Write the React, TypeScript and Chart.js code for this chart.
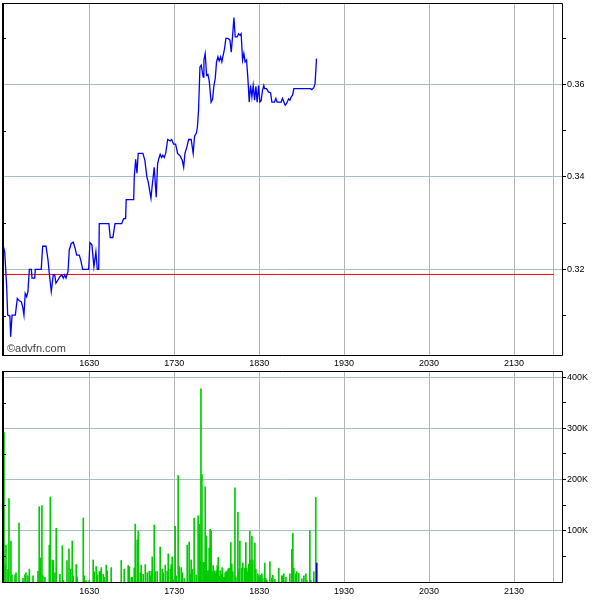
import React, { useEffect, useRef } from 'react';
import { Chart, registerables } from 'chart.js';

Chart.register(...registerables);

// Minutes since midnight (15:29 .. 22:04)
const timeMin = 929.1;
const timeMax = 1323.9;
const timeLabelTicks = [990, 1050, 1110, 1170, 1230, 1290];
const sessionEnd = 1318;

const priceTimes = [
  929.3, 930.3, 931.7, 932.4, 934.0, 934.5, 935.5, 937.8, 939.2, 940.6, 942.0, 943.0, 943.9, 944.8, 945.8, 946.7,
  947.7, 949.1, 949.6, 951.5, 951.9, 956.1, 957.1, 959.5, 960.9, 961.8, 963.2, 964.6, 965.6, 966.5, 967.9, 969.3,
  970.7, 971.7, 972.7, 973.6, 975.0, 975.9, 977.3, 978.7, 980.1, 981.1, 983.0, 984.0, 985.4, 989.6, 990.5, 991.9,
  993.3, 994.7, 995.7, 996.7, 997.1, 1003.9, 1004.8, 1006.7, 1008.2, 1012.9, 1014.3, 1015.7, 1016.1, 1021.4, 1021.8,
  1022.8, 1023.7, 1024.6, 1027.9, 1029.3, 1030.7, 1031.7, 1033.6, 1034.5, 1035.9, 1037.3, 1038.3, 1039.2, 1040.1,
  1041.1, 1042.0, 1043.0, 1044.0, 1045.4, 1047.2, 1048.2, 1049.6, 1051.0, 1052.4, 1054.3, 1055.7, 1056.7, 1057.6,
  1059.0, 1060.2, 1062.0, 1063.4, 1064.4, 1065.7, 1066.4, 1067.2, 1068.2, 1069.1, 1070.5, 1071.0, 1071.9, 1072.9,
  1073.8, 1074.7, 1076.1, 1077.1, 1078.0, 1079.0, 1079.9, 1080.9, 1081.8, 1082.8, 1083.7, 1084.6, 1085.6, 1086.5,
  1087.9, 1089.4, 1090.3, 1091.2, 1092.2, 1093.1, 1094.5, 1095.5, 1096.4, 1097.3, 1098.3, 1099.2, 1100.1, 1101.1,
  1102.0, 1103.0, 1103.9, 1104.9, 1105.8, 1106.8, 1107.7, 1108.6, 1109.6, 1110.5, 1111.4, 1112.4, 1113.3, 1113.8,
  1115.2, 1116.6, 1118.1, 1119.0, 1120.9, 1121.8, 1122.7, 1125.6, 1126.5, 1127.5, 1128.4, 1129.4, 1130.8, 1131.7,
  1132.6, 1133.6, 1134.5, 1146.3, 1147.2, 1148.6, 1149.5, 1150.5,
];

const prices = [
  0.3250, 0.3238, 0.3162, 0.3101, 0.3099, 0.3054, 0.3101, 0.3101, 0.3137, 0.3132, 0.3130, 0.3119, 0.3101, 0.3148, 0.3141, 0.3152,
  0.3200, 0.3200, 0.3181, 0.3181, 0.3200, 0.3200, 0.3250, 0.3250, 0.3220, 0.3191, 0.3152, 0.3188, 0.3188, 0.3170, 0.3177, 0.3184,
  0.3188, 0.3181, 0.3188, 0.3181, 0.3195, 0.3242, 0.3256, 0.3259, 0.3245, 0.3231, 0.3231, 0.3220, 0.3200, 0.3200, 0.3258, 0.3253,
  0.3206, 0.3238, 0.3200, 0.3200, 0.3299, 0.3299, 0.3269, 0.3269, 0.3299, 0.3299, 0.3310, 0.3310, 0.3351, 0.3351, 0.3400,
  0.3438, 0.3408, 0.3451, 0.3451, 0.3436, 0.3400, 0.3389, 0.3354, 0.3382, 0.3421, 0.3356, 0.3429, 0.3440, 0.3449,
  0.3442, 0.3447, 0.3442, 0.3451, 0.3481, 0.3478, 0.3481, 0.3471, 0.3471, 0.3451, 0.3445, 0.3436, 0.3421, 0.3451,
  0.3465, 0.3481, 0.3481, 0.3451, 0.3488, 0.3495, 0.3508, 0.3544, 0.3638, 0.3642, 0.3616, 0.3653, 0.3667, 0.3620,
  0.3622, 0.3609, 0.3562, 0.3568, 0.3596, 0.3613, 0.3649, 0.3660, 0.3651, 0.3660, 0.3649, 0.3663, 0.3678, 0.3700,
  0.3700, 0.3696, 0.3670, 0.3703, 0.3745, 0.3703, 0.3703, 0.3710, 0.3707, 0.3710, 0.3653, 0.3667, 0.3649, 0.3653,
  0.3616, 0.3562, 0.3598, 0.3573, 0.3598, 0.3566, 0.3596, 0.3562, 0.3598, 0.3562, 0.3565, 0.3588, 0.3598, 0.3591,
  0.3591, 0.3584, 0.3582, 0.3562, 0.3562, 0.3570, 0.3562, 0.3562, 0.3570, 0.3562, 0.3555, 0.3559, 0.3569, 0.3566,
  0.3573, 0.3577, 0.3591, 0.3591, 0.3589, 0.3593, 0.3602, 0.3656,
];

const prevClose = 0.3189;
const priceMin = 0.30147;
const priceMax = 0.37764;
const priceTicks = [0.31, 0.32, 0.33, 0.34, 0.35, 0.36, 0.37];
const priceMinorTicks = [0.31, 0.33, 0.35, 0.37];

const volumeTimes = [
  929.8, 930.5, 931.2, 932.6, 933.3, 934.7, 935.4, 937.6, 938.3, 940.4, 943.2, 944.6, 945.3, 946.7, 947.7, 950.3,
  953.8, 954.7, 955.4, 956.6, 957.3, 958.7, 961.8, 962.5, 963.9, 964.6, 965.8, 966.7, 969.3, 971.0, 971.7, 974.3,
  975.7, 976.9, 978.0, 978.7, 980.8, 981.5, 985.8, 986.5, 987.7, 990.0, 992.8, 993.5, 994.9, 995.7, 997.1, 997.8,
  998.5, 999.9, 1000.6, 1002.0, 1002.7, 1005.5, 1012.6, 1014.7, 1017.5, 1018.3, 1019.7, 1020.4, 1021.8, 1022.5,
  1023.9, 1024.6, 1026.0, 1026.7, 1028.1, 1029.6, 1031.0, 1032.4, 1033.1, 1033.8, 1034.5, 1035.9, 1036.6, 1038.0,
  1040.1, 1041.5, 1042.3, 1043.7, 1045.1, 1045.8, 1047.2, 1047.9, 1048.6, 1049.3, 1050.7, 1051.4, 1052.8, 1053.5,
  1055.0, 1055.7, 1057.1, 1059.2, 1060.6, 1061.3, 1062.0, 1062.7, 1064.1, 1065.5, 1066.9, 1067.7, 1068.4, 1068.9,
  1069.6, 1070.5, 1071.2, 1071.9, 1072.6, 1073.3, 1074.0, 1074.7, 1075.4, 1076.1, 1076.8, 1077.5, 1078.3, 1079.0,
  1079.7, 1080.4, 1081.1, 1081.8, 1082.5, 1083.2, 1083.9, 1084.6, 1085.3, 1086.0, 1086.7, 1087.4, 1088.1, 1088.8,
  1090.0, 1090.7, 1091.5, 1092.9, 1093.6, 1095.0, 1095.7, 1096.4, 1097.8, 1098.5, 1099.9, 1100.6, 1101.3, 1102.0,
  1102.7, 1103.4, 1104.2, 1104.9, 1105.6, 1107.0, 1107.7, 1109.1, 1109.8, 1110.5, 1111.2, 1111.9, 1112.6, 1114.0,
  1114.7, 1115.4, 1117.6, 1119.0, 1119.7, 1121.1, 1123.9, 1126.0, 1126.7, 1127.4, 1128.9, 1131.7, 1133.1, 1133.8,
  1134.5, 1135.9, 1136.6, 1138.0, 1140.2, 1141.6, 1143.0, 1143.7, 1145.8, 1146.5, 1148.6, 1150.0, 1150.7,
];

const volumes = [
  292000, 33000, 72000, 25000, 163000, 80000, 14000, 14000, 18000, 115000, 7000, 14000, 18000, 12000, 25000, 12000,
  21000, 147000, 47000, 149000, 12000, 9000, 72000, 166000, 43000, 42000, 18000, 105000, 15000, 71000, 3000, 42000,
  65000, 25000, 80000, 12000, 34000, 10000, 125000, 12000, 3000, 3000, 43000, 20000, 30000, 14000, 20000, 21000,
  28000, 15000, 9000, 33000, 22000, 28000, 42000, 25000, 32000, 30000, 9000, 9000, 27000, 113000,
  82000, 99000, 18000, 33000, 15000, 34000, 18000, 21000, 12000, 21000, 49000, 111000, 20000, 21000,
  68000, 25000, 18000, 33000, 21000, 55000, 25000, 34000, 49000, 5000, 109000, 12000, 208000, 30000,
  28000, 18000, 7000, 72000, 78000, 15000, 43000, 25000, 125000, 14000, 129000, 113000, 38000, 377000,
  210000, 38000, 38000, 186000, 90000, 22000, 22000, 66000, 103000, 100000, 20000, 32000, 22000, 18000,
  22000, 32000, 48000, 11000, 22000, 15000, 28000, 9000, 9000, 18000, 20000, 22000, 25000, 27000,
  77000, 35000, 20000, 184000, 10000, 136000, 25000, 80000, 27000, 37000, 27000, 77000, 27000, 20000,
  35000, 99000, 43000, 89000, 43000, 76000, 25000, 16000, 12000, 6000, 13000, 16000, 7000, 37000,
  7000, 3000, 40000, 8000, 13000, 5000, 27000, 12000, 12000, 16000, 9000, 16000, 64000, 95000,
  27000, 16000, 20000, 17000, 6000, 12000, 16000, 3000, 100000, 3000, 20000, 165000, 37000,
];

const volumeMax = 412000;
const volumeTicks = [50000, 100000, 150000, 200000, 250000, 300000, 350000, 400000];
const volumeMinorTicks = [50000, 150000, 250000, 350000];

const FONT = 'Liberation Sans, Arial, sans-serif';
const H_GRID = '#a4c2c2';
const V_GRID = '#b4b4b4';

function timeLabel(v: number): string {
  if (!timeLabelTicks.includes(v)) return '';
  const h = Math.floor(v / 60);
  const m = Math.round(v % 60);
  return String(h * 100 + m);
}

function makeFrame(minor: number[], watermark?: string) {
  return {
    id: 'frame',
    afterDraw(chart: any) {
      const { ctx, chartArea: a, scales } = chart;
      const l = Math.round(a.left);
      const t = Math.round(a.top);
      const r = Math.round(a.right);
      const b = Math.round(a.bottom);
      ctx.save();
      ctx.strokeStyle = '#000';
      ctx.lineWidth = 1;
      ctx.beginPath();
      ctx.moveTo(l, t + 0.5);
      ctx.lineTo(r + 0.5, t + 0.5);
      ctx.lineTo(r + 0.5, b + 0.5);
      ctx.lineTo(l, b + 0.5);
      ctx.stroke();
      ctx.lineWidth = 2;
      ctx.beginPath();
      ctx.moveTo(l, t);
      ctx.lineTo(l, b + 1);
      ctx.stroke();
      ctx.lineWidth = 1;
      minor.forEach((v) => {
        const y = Math.round(scales.y.getPixelForValue(v)) + 0.5;
        ctx.beginPath();
        ctx.moveTo(l, y);
        ctx.lineTo(l + 3, y);
        ctx.stroke();
      });
      if (watermark) {
        ctx.fillStyle = '#444';
        ctx.font = '11px ' + FONT;
        ctx.textBaseline = 'alphabetic';
        ctx.textAlign = 'left';
        ctx.fillText(watermark, l + 4, b - 3);
      }
      ctx.restore();
    },
  };
}

function xScale(height: number, pad: number) {
  return {
    type: 'linear' as const,
    min: timeMin,
    max: timeMax,
    offset: false,
    afterBuildTicks: (s: any) => {
      s.ticks = [...timeLabelTicks, sessionEnd].map((v) => ({ value: v }));
    },
    afterFit: (s: any) => {
      s.height = height;
      s.paddingLeft = 0;
      s.paddingRight = 0;
    },
    ticks: {
      autoSkip: false,
      maxRotation: 0,
      minRotation: 0,
      padding: pad,
      color: '#000',
      font: { size: 9, family: FONT },
      callback: (v: any) => timeLabel(Number(v)),
    },
    grid: { color: V_GRID, drawTicks: false, tickLength: 0, offset: false, lineWidth: 1 },
    border: { display: false },
  };
}

export default function App() {
  const priceRef = useRef<HTMLCanvasElement | null>(null);
  const volRef = useRef<HTMLCanvasElement | null>(null);

  useEffect(() => {
    const priceChart = new Chart(priceRef.current as HTMLCanvasElement, {
      type: 'line',
      data: {
        datasets: [
          {
            data: priceTimes.map((t, i) => ({ x: t, y: prices[i] })),
            borderColor: '#0000ff',
            borderWidth: 1.3,
            pointRadius: 0,
            tension: 0,
            fill: false,
          },
          {
            data: [
              { x: timeMin, y: prevClose },
              { x: sessionEnd, y: prevClose },
            ],
            borderColor: '#ff0000',
            borderWidth: 1,
            pointRadius: 0,
            fill: false,
          },
        ],
      },
      options: {
        animation: false,
        responsive: false,
        maintainAspectRatio: false,
        layout: { padding: { left: 3, top: 3, right: 0, bottom: 0 } },
        plugins: { legend: { display: false }, tooltip: { enabled: false } },
        scales: {
          x: xScale(13, 3) as any,
          y: {
            type: 'linear',
            position: 'right',
            min: priceMin,
            max: priceMax,
            afterBuildTicks: (s: any) => {
              s.ticks = priceTicks.map((v) => ({ value: v }));
            },
            afterFit: (s: any) => {
              s.width = 38;
              s.paddingTop = 0;
              s.paddingBottom = 0;
            },
            ticks: {
              padding: 1,
              color: '#000',
              font: { size: 9, family: FONT },
              callback: (v: any) => (priceMinorTicks.some((m) => Math.abs(m - v) < 1e-6) ? '' : Number(v).toFixed(2)),
            },
            grid: {
              color: (c: any) =>
                c.tick && priceMinorTicks.some((m) => Math.abs(m - c.tick.value) < 1e-6) ? 'rgba(0,0,0,0)' : H_GRID,
              tickColor: '#000',
              tickLength: 4,
              drawTicks: true,
            },
            border: { display: false },
          },
        },
      },
      plugins: [makeFrame(priceMinorTicks, '\u00A9advfn.com')],
    });

    const volChart = new Chart(volRef.current as HTMLCanvasElement, {
      type: 'bar',
      data: {
        datasets: [
          {
            data: volumeTimes.map((t, i) => ({ x: t, y: volumes[i] })),
            backgroundColor: volumes.map((_, i) => (i === volumes.length - 1 ? '#0000cc' : '#00cc00')),
            barThickness: 1,
            borderWidth: 0,
          },
        ],
      },
      options: {
        animation: false,
        responsive: false,
        maintainAspectRatio: false,
        layout: { padding: { left: 3, top: 3, right: 0, bottom: 0 } },
        plugins: { legend: { display: false }, tooltip: { enabled: false } },
        scales: {
          x: xScale(18, 4) as any,
          y: {
            type: 'linear',
            position: 'right',
            min: 0,
            max: volumeMax,
            afterBuildTicks: (s: any) => {
              s.ticks = volumeTicks.map((v) => ({ value: v }));
            },
            afterFit: (s: any) => {
              s.width = 38;
              s.paddingTop = 0;
              s.paddingBottom = 0;
            },
            ticks: {
              padding: 1,
              color: '#000',
              font: { size: 9, family: FONT },
              callback: (v: any) => (Number(v) % 100000 === 0 ? Number(v) / 1000 + 'K' : ''),
            },
            grid: {
              color: (c: any) => (c.tick && c.tick.value % 100000 === 0 ? H_GRID : 'rgba(0,0,0,0)'),
              tickColor: '#000',
              tickLength: 4,
              drawTicks: true,
            },
            border: { display: false },
          },
        },
      },
      plugins: [makeFrame(volumeMinorTicks)],
    });

    return () => {
      priceChart.destroy();
      volChart.destroy();
    };
  }, []);

  return (
    <div style={{ position: 'absolute', left: 0, top: 0, width: 600, height: 600, background: '#fff' }}>
      <canvas
        ref={priceRef}
        width={600}
        height={368}
        style={{ position: 'absolute', left: 0, top: 0, width: 600, height: 368, display: 'block' }}
      />
      <canvas
        ref={volRef}
        width={600}
        height={232}
        style={{ position: 'absolute', left: 0, top: 368, width: 600, height: 232, display: 'block' }}
      />
    </div>
  );
}
